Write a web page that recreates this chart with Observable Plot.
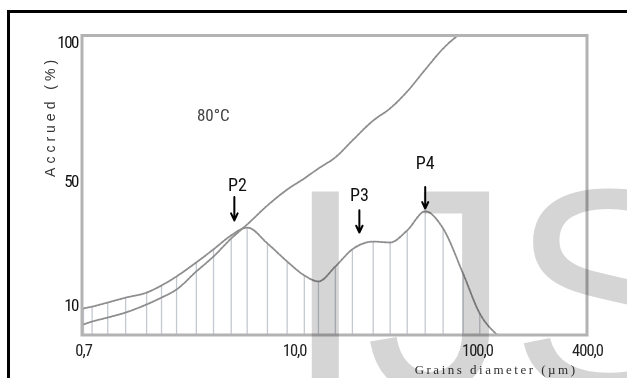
<!DOCTYPE html>
<html><head><meta charset="utf-8">
<script src="https://cdn.jsdelivr.net/npm/d3@7"></script>
<script src="https://cdn.jsdelivr.net/npm/@observablehq/plot@0.6"></script>
<style>
html,body{margin:0;padding:0;background:#fff;width:627px;height:378px;overflow:hidden;}
#wrap{position:relative;width:627px;height:378px;overflow:hidden;}
#border{position:absolute;left:7px;top:10px;width:800px;height:600px;border:3px solid #000;box-sizing:border-box;}
#chart{position:absolute;left:0;top:0;}
#wm{position:absolute;left:0;top:0;mix-blend-mode:multiply;pointer-events:none;}
</style></head><body>
<div id="wrap"><div id="border"></div><div id="chart"></div>
<svg id="wm" width="627" height="378"><text x="285" y="391" font-family="Liberation Sans, Arial, sans-serif" font-size="290" fill="#d5d5d5">IJS</text></svg>
</div>
<script>
// grain diameters (µm) of the size classes
const diameters = [0.7, 0.78, 0.95, 1.19, 1.55, 1.87, 2.26, 2.9, 3.6, 4.5, 5.5, 7.1, 9.1, 11.3, 13.5, 16.7, 20.7, 26.9, 33.3, 41.3, 51.8, 64.9, 83.5, 103, 128];
// differential (frequency) curve
const frequency = [9.2, 9.8, 11.1, 12.7, 14.3, 16.6, 19.5, 24.0, 28.2, 32.7, 35.2, 30.1, 24.3, 19.8, 17.9, 22.7, 28.2, 30.7, 30.4, 34.3, 40.4, 34.9, 20.4, 7.6, 0.8];
// cumulative (accrued) curve
const cumulative = [4.1, 5.0, 6.3, 7.9, 10.5, 12.7, 15.3, 21.1, 25.9, 31.7, 36.2, 42.3, 47.4, 51.1, 54.7, 58.7, 64.8, 72.0, 76.4, 82.5, 90.4, 98.0, 104.2];

const xTicks = [0.7, 10, 100, 400];
const xTickLabels = ["0,7", "10,0", "100,0", "400,0"];
const yTicks = [10, 50, 100];

const peakNames = ["P2", "P3", "P4"];
const peakLabelX = [4.86, 22.6, 51.8];
const peakLabelY = [48.7, 45.5, 56.5];
const arrowX = [4.68, 22.6, 51.8];
const arrowFromY = [45.0, 40.8, 48.2];
const arrowToY = [37.5, 33.6, 41.3];

const tempLabel = ["80°C"]; const tempX = [3.59]; const tempY = [73.8];
const yTitle = ["Accrued (%)"]; const yTitleX = [0.461]; const yTitleY = [73.5];
const xTitle = ["Grains diameter (µm)"]; const xTitleX = [126.5]; const xTitleY = [-10.6];

const rows = diameters.map((d, i) => ({d, f: frequency[i], c: cumulative[i]}));
const cumRows = rows.filter(r => r.c != null);
const peaks = peakNames.map((n, i) => ({n, lx: peakLabelX[i], ly: peakLabelY[i], ax: arrowX[i], a1: arrowFromY[i], a2: arrowToY[i]}));
const xLabels = xTicks.map((t, i) => ({t, s: xTickLabels[i]}));

const narrow = "'Liberation Sans Narrow', 'Arial Narrow', 'Roboto Condensed', 'Liberation Sans', Arial, sans-serif";

const chart = Plot.plot({
  width: 627, height: 378,
  marginLeft: 81.5, marginRight: 40.5, marginTop: 35, marginBottom: 43.5,
  style: {background: "transparent", fontFamily: narrow, overflow: "visible"},
  x: {type: "log", domain: [0.7, 400], range: [83, 587], axis: null},
  y: {type: "linear", domain: [10, 50, 100], range: [305.5, 181, 42.5]},
  marks: [
    Plot.ruleX(rows, {x: "d", y1: 0, y2: "f", stroke: "#c4c8d0", strokeWidth: 1.3, clip: true}),
    Plot.line(rows, {x: "d", y: "f", stroke: "#8e8e8e", strokeWidth: 1.8, strokeDasharray: "2.5 1.3", curve: "monotone-x", clip: true}),
    Plot.line(cumRows, {x: "d", y: "c", stroke: "#8e8e8e", strokeWidth: 1.8, strokeDasharray: "2.5 1.3", curve: "monotone-x", clip: true}),
    Plot.frame({stroke: "#b3b3b3", strokeWidth: 3}),
    Plot.text(xLabels, {x: "t", frameAnchor: "bottom", dy: 15.5, text: "s", fontSize: 16.5, fill: "#222", lineAnchor: "middle"}),
    Plot.axisY({ticks: yTicks, tickSize: 0, tickPadding: 4, fontSize: 17, label: null}),
    Plot.text(peaks, {x: "lx", y: "ly", text: "n", fontSize: 18, fill: "#111"}),
    Plot.arrow(peaks, {x1: "ax", x2: "ax", y1: "a1", y2: "a2", stroke: "#000", strokeWidth: 2, headLength: 8, headAngle: 50}),
    Plot.text(tempLabel, {x: (d, i) => tempX[i], y: (d, i) => tempY[i], text: d => d, fontSize: 17, fill: "#444"}),
    Plot.text(yTitle, {x: (d, i) => yTitleX[i], y: (d, i) => yTitleY[i], text: d => d, rotate: -90, fontSize: 14, fill: "#333", fontFamily: "'Liberation Sans', Arial, sans-serif"}),
    Plot.text(xTitle, {x: (d, i) => xTitleX[i], y: (d, i) => xTitleY[i], text: d => d, fontSize: 13, fill: "#333", fontFamily: "'Liberation Serif', 'Times New Roman', serif"})
  ]
});
document.getElementById("chart").appendChild(chart);
const svg = d3.select(chart);
svg.selectAll('g[aria-label="y-axis tick label"] text').style("letter-spacing", "-1.5px").attr("fill", "#111");
svg.selectAll('g[aria-label="text"] text').each(function() {
  const t = this.textContent;
  if (xTickLabels.includes(t)) d3.select(this).style("letter-spacing", "-1px");
  if (t === yTitle[0]) d3.select(this).style("letter-spacing", "4px");
  if (t === xTitle[0]) d3.select(this).style("letter-spacing", "2.5px");
});
</script>
</body></html>
